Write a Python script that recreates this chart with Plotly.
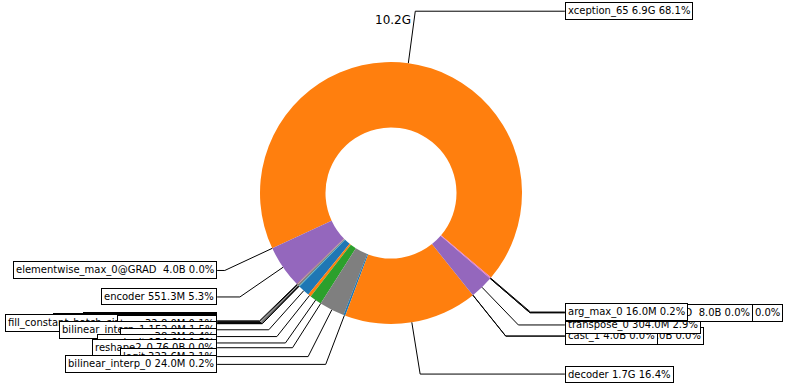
import math
import plotly.graph_objects as go

# ---- data (bytes), counterclockwise order starting with the big slice ----
names = [
    "xception_65", "elementwise_max_0@GRAD\u00a0", "encoder",
    "dropout_0", "unsqueeze2_0", "elementwise_div_0",
    "fill_constant_batch_size_like_0", "tmp_32",
    "bilinear_interp_1", "mean", "aux_logit", "reshape2_0", "logit",
    "bilinear_interp_0", "decoder", "unsqueeze2_10", "cast_1", "transpose_0",
    "fill_constant_batch_size_like_10", "reduce_mean_10@GRAD\u00a0", "arg_max_0",
]
sizes = [
    7427063808, 4, 578079949,
    8388608, 4194304, 25165824,
    4, 8388608,
    159383552, 40055603, 162109850, 76, 339319194,
    25165824, 1792016384, 8, 4, 318767104,
    4, 8, 16777216,
]
colors = [
    "#ff7f0e", "#2ca02c", "#9467bd",
    "#8c564b", "#e377c2", "#7f7f7f",
    "#bcbd22", "#17becf",
    "#1f77b4", "#ff7f0e", "#2ca02c", "#d62728", "#7f7f7f",
    "#1f77b4", "#ff7f0e", "#2ca02c", "#d62728", "#9467bd",
    "#8c564b", "#e377c2", "#e377c2",
]

# ---- layout constants (pixel space) ----
W, H = 787, 386
CX, CY, R = 391, 193, 131  # pie centre (px from left/top) and radius
START_DEG = -40.2          # math angle where first slice starts
FONT = "DejaVu Sans"


def fmt(b):
    for unit in ["B", "K", "M", "G", "T"]:
        if b < 1024:
            return f"{b:.1f}{unit}"
        b /= 1024.0
    return f"{b:.1f}P"


def px2paper(x, y):
    return x / W, (H - y) / H


total = float(sum(sizes))
angles = []
acc = START_DEG
for v in sizes:
    a = 360.0 * v / total
    angles.append((acc, acc + a))
    acc += a

# plotly: in counterclockwise mode rotation marks the end of the first slice
first_end = angles[0][1]
rotation = 90.0 - first_end

x0, y0 = px2paper(CX - R, CY + R)
x1, y1 = px2paper(CX + R, CY - R)

fig = go.Figure()
fig.add_trace(go.Pie(
    labels=[f"s{i}" for i in range(len(names))],
    values=sizes,
    sort=False,
    direction="counterclockwise",
    rotation=rotation,
    hole=0.5,
    marker=dict(colors=colors, line=dict(width=0)),
    textinfo="none",
    hoverinfo="skip",
    showlegend=False,
    domain=dict(x=[x0, x1], y=[y0, y1]),
))

annotations = []
shapes = []
PAD = 3
for name, v, (t1, t2) in zip(names, sizes, angles):
    ang = math.radians((t1 + t2) / 2.0)
    cx, cy = math.cos(ang), math.sin(ang)
    side = 1 if cx >= 0 else -1
    tx = CX + R * 1.35 * side
    ty = CY - R * 1.4 * cy
    pct = 100.0 * v / total
    text = f"{name} {fmt(v)} {pct:.1f}%"
    box_edge = tx - side * PAD
    # leader line: box edge -> corner -> wedge outer point
    p0 = px2paper(box_edge, ty)
    p1 = px2paper(CX + R * 1.4 * cx, ty)
    p2 = px2paper(CX + R * cx, CY - R * cy)
    shapes.append(dict(
        type="path", xref="paper", yref="paper",
        path=f"M {p0[0]},{p0[1]} L {p1[0]},{p1[1]} L {p2[0]},{p2[1]}",
        line=dict(color="black", width=1), layer="above",
    ))
    ax, ay = px2paper(box_edge, ty)
    annotations.append(dict(
        x=ax, y=ay, xref="paper", yref="paper",
        xanchor="left" if side > 0 else "right", yanchor="middle",
        text=text, showarrow=False,
        font=dict(family=FONT, size=10, color="black"),
        bgcolor="white", bordercolor="black", borderwidth=1, borderpad=2,
    ))

tx, ty = px2paper(CX + 2, 20)
annotations.insert(0, dict(
    x=tx, y=ty, xref="paper", yref="paper", xanchor="center", yanchor="middle",
    text=fmt(total), showarrow=False,
    font=dict(family=FONT, size=12, color="black"),
))

fig.update_layout(
    width=W, height=H,
    margin=dict(l=0, r=0, t=0, b=0),
    paper_bgcolor="white", plot_bgcolor="white",
    annotations=annotations, shapes=shapes,
    font=dict(family=FONT, size=10, color="black"),
)

fig.write_html(
    "out.html",
    config={"displayModeBar": False, "staticPlot": True},
    post_script="document.body.style.margin='0';document.body.style.overflow='hidden';",
)
